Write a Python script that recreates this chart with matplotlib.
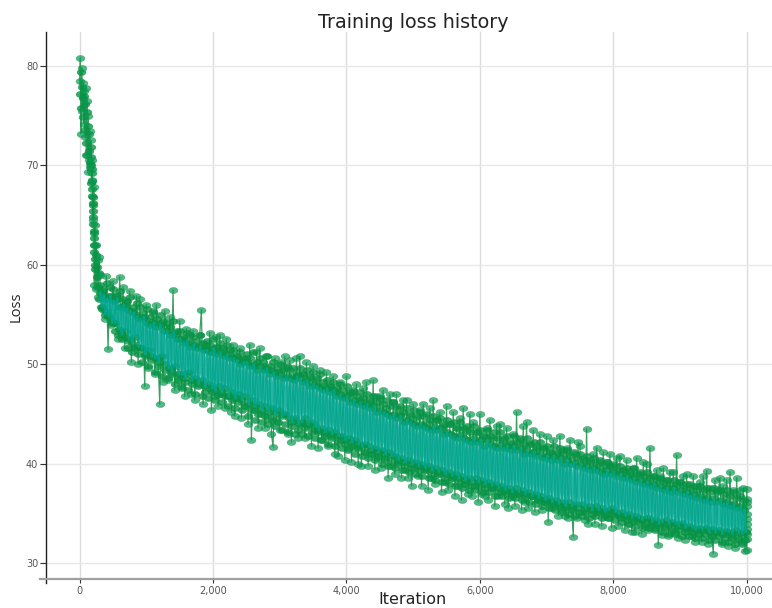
"""
Training loss history: dense green/teal loss curve.
Values read off the picture: an outer pass for the stems and stray points,
a rim pass for the speckled green edge, an inner pass for the teal core.
"""
import matplotlib
matplotlib.use('Agg')
import matplotlib.pyplot as plt
from matplotlib.markers import MarkerStyle
from matplotlib.transforms import Affine2D

# ── Data ──
# first 300 iterations, every 10
early_loss = [
    78.5, 80.8, 73.2, 79.8, 75.5, 78.3, 74.2, 77.5, 72.8, 77.8,
    71.0, 76.5, 69.3, 75.0, 70.5, 73.5, 69.8, 72.5, 68.5, 70.5,
    64.5, 67.8, 58.0, 64.0, 57.6, 62.0, 57.8, 60.5, 56.8, 60.8,
]
# same stretch, offset by 5
early_inner_loss = [
    77.2, 79.4, 75.8, 77.9, 76.8, 74.9, 77.0, 73.6, 76.2, 72.2,
    75.4, 71.0, 74.0, 71.4, 73.2, 70.2, 71.8, 68.2, 69.6, 66.8,
    66.0, 63.2, 62.0, 59.6, 61.0, 58.8, 59.8, 57.8, 59.2, 56.6,
]
# extra points on the steep part of the drop
steep_iters = [165, 172, 178, 183, 187, 190, 195, 198, 203, 207, 210, 214, 218, 222, 226, 231]
steep_loss = [70.8, 70.0, 69.2, 68.4, 67.6, 66.9, 66.2, 65.4, 64.8, 64.1, 63.4, 62.7, 62.0, 61.3, 60.6, 60.0]
# from 300 on, every 25 (one row = 200 iterations)
outer_loss = [
    59.0, 55.8, 57.6, 54.6, 58.9, 51.5, 56.9, 54.0,
    58.4, 54.2, 56.9, 52.6, 58.8, 53.4, 57.8, 51.6,
    56.2, 52.4, 57.4, 50.2, 55.4, 51.6, 56.9, 50.0,
    56.6, 51.6, 54.8, 47.8, 56.0, 49.6, 54.4, 50.8,
    55.2, 49.0, 56.0, 50.6, 46.0, 54.2, 48.2, 55.4,
    53.8, 48.4, 54.8, 49.6, 57.5, 47.4, 53.0, 48.6,
    54.4, 47.8, 52.6, 46.8, 53.6, 49.0, 52.2, 47.0,
    53.4, 46.4, 51.8, 48.2, 53.0, 55.5, 46.0, 52.0,
    52.0, 47.6, 53.2, 45.4, 51.2, 46.8, 52.8, 45.8,
    53.0, 47.0, 51.4, 45.6, 52.6, 46.8, 50.8, 45.2,
    52.0, 44.8, 50.8, 46.6, 51.6, 44.6, 50.4, 45.8,
    50.6, 44.0, 52.0, 42.4, 49.8, 45.4, 51.2, 43.6,
    51.6, 45.0, 49.8, 43.6, 50.8, 44.6, 49.4, 43.0,
    41.7, 50.6, 44.4, 49.2, 43.4, 50.2, 45.0, 50.8,
    49.6, 43.0, 50.4, 42.2, 48.8, 44.4, 50.6, 42.6,
    50.8, 44.0, 49.0, 42.6, 50.2, 43.8, 48.6, 41.8,
    49.8, 43.4, 48.4, 41.6, 49.4, 42.4, 47.8, 43.0,
    49.2, 41.8, 47.8, 42.8, 48.8, 41.0, 47.2, 40.8,
    48.2, 42.4, 46.8, 40.4, 48.8, 41.6, 47.0, 40.2,
    47.2, 41.6, 48.0, 40.0, 46.4, 39.8, 47.6, 41.2,
    48.2, 39.8, 46.2, 41.0, 48.4, 39.4, 46.8, 40.6,
    46.8, 39.6, 47.4, 40.4, 45.6, 38.6, 47.0, 39.8,
    46.2, 39.0, 47.0, 40.0, 45.0, 38.6, 46.4, 39.4,
    46.4, 38.6, 44.8, 37.8, 46.0, 39.6, 44.6, 38.8,
    45.4, 37.8, 46.0, 39.4, 44.2, 37.4, 45.6, 38.6,
    46.4, 38.0, 44.4, 39.0, 45.2, 37.2, 43.8, 38.2,
    45.8, 37.4, 44.0, 38.6, 45.2, 36.8, 43.6, 37.8,
    44.6, 36.4, 45.6, 38.0, 43.4, 37.0, 45.0, 36.8,
    44.2, 37.8, 43.2, 36.2, 45.0, 37.0, 42.8, 36.8,
    43.6, 36.4, 44.4, 37.6, 42.6, 35.8, 43.8, 36.8,
    44.0, 37.2, 42.4, 36.0, 43.6, 35.6, 42.0, 36.8,
    43.0, 35.8, 45.2, 37.0, 42.4, 35.4, 43.8, 36.2,
    44.2, 35.6, 42.0, 36.8, 43.4, 35.2, 41.8, 36.4,
    43.0, 35.4, 41.6, 36.2, 42.8, 34.2, 41.2, 35.6,
    42.4, 36.0, 41.0, 34.8, 42.8, 35.4, 41.4, 34.8,
    41.6, 34.6, 42.4, 35.6, 32.7, 41.0, 34.6, 42.2,
    41.8, 35.2, 40.6, 34.4, 43.5, 34.0, 40.4, 35.4,
    41.0, 34.0, 41.6, 35.2, 40.2, 33.8, 41.2, 34.8,
    40.2, 34.6, 41.0, 33.6, 39.8, 35.0, 40.6, 33.8,
    40.8, 34.6, 39.4, 33.4, 40.4, 34.0, 39.2, 33.2,
    39.6, 33.2, 40.6, 34.4, 39.0, 33.0, 40.2, 33.8,
    40.0, 33.4, 41.6, 34.2, 38.8, 33.6, 39.4, 31.9,
    38.8, 32.9, 39.6, 33.8, 38.4, 32.8, 39.2, 33.6,
    39.2, 33.2, 40.9, 32.6, 38.2, 33.8, 38.8, 32.4,
    39.0, 33.4, 38.0, 32.8, 38.8, 32.2, 37.8, 33.2,
    38.2, 32.2, 38.8, 33.4, 39.3, 32.0, 37.6, 32.8,
    31.0, 38.4, 33.2, 37.4, 38.6, 32.0, 37.8, 33.0,
    38.4, 31.8, 39.2, 32.8, 37.4, 31.6, 38.6, 32.6,
    37.4, 32.2, 37.6, 31.3, 36.2,
]
# the column of points stacked at the last iteration
end_loss = [37.5, 35.0, 36.5, 33.5, 35.8, 32.5, 34.5, 31.4, 34.0, 33.0]
# from 305 on, every 25
rim_loss = [
    58.0, 55.6, 57.4, 55.4, 58.2, 55.0, 57.8, 54.4,
    57.6, 53.4, 57.0, 53.0, 57.4, 52.6, 56.6, 52.8,
    56.4, 51.6, 56.8, 51.2, 55.8, 51.8, 56.2, 51.0,
    55.8, 50.2, 55.2, 50.8, 55.6, 49.8, 54.8, 50.4,
    55.4, 49.2, 54.6, 49.8, 55.0, 48.8, 54.4, 49.4,
    54.2, 48.6, 53.8, 49.0, 54.4, 48.0, 53.4, 48.4,
    53.4, 47.6, 52.8, 48.2, 53.2, 47.4, 53.0, 48.0,
    52.8, 47.0, 52.4, 47.8, 53.0, 46.8, 52.2, 47.2,
    52.4, 46.6, 52.0, 47.2, 52.6, 46.4, 51.8, 46.9,
    52.2, 46.2, 51.6, 46.8, 52.0, 45.8, 51.4, 46.4,
    51.4, 45.6, 50.8, 46.2, 51.2, 45.4, 50.6, 45.8,
    51.0, 44.8, 50.6, 45.4, 51.2, 44.4, 50.2, 45.0,
    50.6, 44.2, 50.2, 44.8, 50.8, 44.0, 49.8, 44.4,
    50.2, 43.8, 49.6, 44.2, 50.0, 43.4, 49.4, 44.0,
    49.8, 43.2, 49.4, 43.8, 49.6, 43.0, 49.0, 43.4,
    49.6, 43.0, 49.0, 43.6, 49.4, 42.8, 48.8, 43.2,
    49.2, 42.6, 48.6, 43.2, 49.0, 42.4, 48.2, 42.8,
    48.4, 42.0, 47.8, 42.6, 48.2, 41.8, 47.6, 42.2,
    48.0, 41.6, 47.4, 42.0, 47.8, 41.4, 47.2, 41.8,
    47.4, 41.0, 46.8, 41.6, 47.2, 40.8, 46.6, 41.2,
    47.0, 40.6, 46.4, 41.0, 46.8, 40.4, 46.2, 40.8,
    46.6, 40.0, 46.0, 40.6, 46.4, 39.8, 45.8, 40.2,
    46.2, 39.6, 45.6, 40.2, 45.8, 39.4, 45.2, 39.8,
    45.6, 39.2, 45.0, 39.6, 45.4, 39.0, 44.8, 39.4,
    45.2, 38.8, 44.8, 39.4, 45.0, 38.6, 44.4, 39.0,
    44.8, 38.4, 44.4, 39.0, 44.6, 38.2, 44.0, 38.6,
    44.4, 38.0, 44.0, 38.6, 44.2, 37.8, 43.6, 38.2,
    44.2, 37.6, 43.6, 38.0, 43.8, 37.4, 43.2, 37.8,
    43.8, 37.4, 43.2, 37.8, 43.4, 37.2, 42.8, 37.6,
    43.4, 37.2, 42.8, 37.6, 43.2, 36.8, 42.6, 37.2,
    43.2, 36.8, 42.6, 37.2, 42.8, 36.6, 42.2, 37.0,
    42.8, 36.6, 42.2, 37.0, 42.6, 36.4, 42.0, 36.8,
    42.6, 36.2, 42.0, 36.8, 42.2, 36.0, 41.6, 36.4,
    42.2, 35.8, 41.6, 36.2, 41.8, 35.6, 41.2, 36.0,
    41.8, 35.4, 41.2, 35.8, 41.6, 35.2, 41.0, 35.6,
    41.4, 35.0, 40.8, 35.4, 41.2, 34.8, 40.6, 35.2,
    41.0, 34.8, 40.4, 35.2, 40.8, 34.6, 40.2, 35.0,
    40.6, 34.8, 40.0, 35.2, 40.4, 34.6, 39.8, 35.0,
    40.2, 34.6, 39.8, 35.0, 40.0, 34.4, 39.4, 34.8,
    39.8, 34.2, 39.4, 34.6, 39.6, 34.0, 39.0, 34.4,
    39.6, 33.8, 39.0, 34.2, 39.2, 33.6, 38.8, 34.0,
    39.2, 33.6, 38.6, 34.0, 38.8, 33.4, 38.4, 33.8,
    38.6, 33.2, 38.2, 33.6, 38.4, 33.0, 37.9, 33.4,
    38.4, 33.0, 38.0, 33.4, 38.2, 32.8, 37.8, 33.2,
    38.0, 32.8, 37.6, 33.2, 37.8, 32.6, 37.4, 33.0,
    37.8, 32.6, 37.4, 33.0, 37.6, 32.4, 37.2, 32.8,
    37.6, 32.4, 37.2, 32.8, 37.4, 32.2, 37.0, 32.6,
    37.4, 32.2, 36.8, 32.6, 37.2, 32.0, 36.6, 32.4,
    36.8, 32.0, 36.4, 32.4,
]
# from 310 on, every 25
inner_loss = [
    57.2, 55.8, 57.0, 55.0, 56.6, 54.8, 56.9, 54.2,
    56.4, 54.2, 56.6, 53.6, 55.8, 53.0, 56.0, 53.4,
    55.6, 52.6, 55.4, 52.2, 55.2, 52.8, 54.8, 51.8,
    54.6, 51.6, 54.8, 51.0, 54.2, 51.4, 54.0, 50.8,
    54.2, 50.6, 53.8, 50.2, 54.0, 50.8, 53.4, 50.0,
    53.4, 49.6, 53.0, 49.2, 53.2, 49.8, 52.6, 49.0,
    52.6, 49.0, 52.2, 48.6, 52.4, 49.2, 51.8, 48.4,
    52.0, 48.6, 51.6, 48.0, 51.8, 48.4, 51.4, 47.8,
    51.4, 48.0, 51.2, 47.6, 51.6, 47.4, 51.0, 47.8,
    51.2, 47.2, 50.8, 47.6, 51.0, 46.8, 50.6, 47.2,
    50.6, 46.6, 50.4, 47.0, 50.0, 46.4, 50.2, 46.8,
    50.2, 46.0, 49.8, 46.4, 50.0, 45.8, 49.4, 46.0,
    49.8, 45.4, 49.4, 45.8, 49.6, 45.2, 49.0, 45.6,
    49.2, 45.0, 48.8, 45.4, 49.0, 44.8, 48.6, 45.0,
    48.8, 44.6, 48.6, 44.2, 48.4, 44.6, 48.8, 44.0,
    48.6, 44.2, 48.2, 44.6, 48.4, 44.0, 47.8, 44.2,
    48.0, 43.8, 47.8, 43.4, 47.6, 43.6, 47.4, 43.2,
    47.6, 43.4, 47.2, 43.0, 47.4, 43.2, 46.8, 42.8,
    47.0, 42.8, 46.6, 42.4, 46.8, 42.6, 46.2, 42.2,
    46.4, 42.4, 46.0, 42.0, 46.2, 41.8, 45.8, 42.0,
    46.0, 41.8, 45.6, 41.4, 45.8, 41.6, 45.2, 41.2,
    45.4, 41.4, 45.2, 41.0, 45.0, 41.2, 44.8, 40.8,
    45.0, 40.8, 44.6, 40.4, 44.8, 40.6, 44.2, 40.2,
    44.4, 40.4, 44.2, 40.0, 44.0, 40.2, 43.8, 39.8,
    44.0, 40.0, 43.8, 39.6, 43.6, 39.8, 43.4, 39.4,
    43.8, 39.6, 43.4, 39.2, 43.6, 39.4, 43.0, 39.0,
    43.2, 39.2, 43.0, 38.8, 42.8, 39.0, 42.6, 38.6,
    43.0, 38.8, 42.6, 38.4, 42.4, 38.6, 42.2, 38.2,
    42.6, 38.6, 42.2, 38.2, 42.4, 38.4, 41.8, 38.0,
    42.4, 38.2, 42.0, 37.8, 41.8, 38.0, 41.6, 37.6,
    42.0, 37.8, 41.6, 37.4, 41.8, 37.6, 41.4, 37.2,
    41.8, 37.6, 41.4, 37.2, 41.6, 37.4, 41.0, 37.0,
    41.4, 37.2, 41.0, 36.8, 41.2, 37.0, 40.8, 36.6,
    41.0, 36.8, 40.6, 36.4, 40.8, 36.6, 40.4, 36.2,
    40.8, 36.4, 40.4, 36.0, 40.6, 36.2, 40.0, 35.8,
    40.4, 36.2, 40.0, 35.8, 40.2, 36.0, 39.8, 35.6,
    40.0, 36.0, 39.6, 35.6, 39.8, 35.8, 39.4, 35.4,
    39.6, 35.8, 39.4, 35.4, 39.2, 35.6, 39.0, 35.2,
    39.4, 35.4, 39.0, 35.6, 39.2, 35.2, 38.8, 35.0,
    39.0, 35.2, 38.6, 34.8, 38.8, 35.0, 38.4, 34.6,
    38.6, 34.8, 38.2, 34.6, 38.4, 34.4, 38.0, 34.6,
    38.2, 34.6, 37.8, 34.2, 38.0, 34.4, 37.6, 34.0,
    37.8, 34.2, 37.4, 34.4, 37.6, 34.0, 37.2, 34.2,
    37.6, 34.0, 37.2, 33.8, 37.4, 34.1, 37.0, 33.6,
    37.2, 33.8, 36.8, 33.6, 37.0, 33.4, 36.6, 33.6,
    36.8, 33.4, 36.4, 33.6, 36.6, 33.2, 36.2, 33.5,
    36.6, 33.2, 36.2, 33.4, 36.4, 33.0, 36.0, 33.3,
    36.2, 33.2, 35.8, 33.0, 36.0, 33.4, 35.6, 33.1,
    35.8, 33.0, 35.4, 33.2,
]

outer_iters = (list(range(0, 300, 10))
               + list(range(300, 300 + 25 * len(outer_loss), 25))
               + [10000] * len(end_loss))
outer = early_loss + outer_loss + end_loss
early_inner_iters = list(range(5, 305, 10))
rim_iters = list(range(305, 305 + 25 * len(rim_loss), 25))
inner_iters = list(range(310, 310 + 25 * len(inner_loss), 25))

x_ticks = [0, 2000, 4000, 6000, 8000, 10000]
x_tick_labels = ['0', '2,000', '4,000', '6,000', '8,000', '10,000']
y_ticks = [30, 40, 50, 60, 70, 80]

W, H = 772, 608
fig = plt.figure(figsize=(W / 100, H / 100), dpi=100, facecolor='white')
# axes box in pixels: x 40-772, y 32-579
ax = fig.add_axes([40 / W, 1 - 579 / H, (772 - 40) / W, (579 - 32) / H])

ax.set_xlim(-595, 10380)
ax.set_ylim(28.44, 83.4)

ax.grid(True, axis='x', color='#dcdcdc', lw=1.0)
ax.grid(True, axis='y', color='#e8e8e8', lw=1.0)
ax.set_axisbelow(True)

# flat, wide dots
dot = MarkerStyle('o', transform=Affine2D().scale(1.45, 1.0))
green = '#0a9a4f'
dark_green = '#079345'
ax.plot(outer_iters, outer, '-', color='#3f9f62', lw=0.9, zorder=2)
ax.plot(early_inner_iters, early_inner_loss, ls='none', marker=dot, ms=4.4,
        mfc=dark_green, mec=dark_green, mew=0.3, alpha=0.8, zorder=3)
ax.plot(steep_iters, steep_loss, ls='none', marker=dot, ms=4.4,
        mfc=dark_green, mec=dark_green, mew=0.3, alpha=0.8, zorder=3)
ax.plot(outer_iters, outer, ls='none', marker=dot, ms=4.4, mfc=green,
        mec='#0a8f48', mew=0.3, alpha=0.7, zorder=3)
ax.plot(rim_iters, rim_loss, ls='none', marker=dot, ms=4.4, mfc=dark_green,
        mec=dark_green, mew=0.3, alpha=0.8, zorder=3)
ax.plot(inner_iters, inner_loss, ls='none', marker=dot, ms=4.4, mfc=dark_green,
        mec=dark_green, mew=0.3, alpha=0.8, zorder=3)
ax.plot(inner_iters, inner_loss, '-', color='#00a896', lw=1.8, alpha=0.85, zorder=4)

# ── Axes ──
for side in ['top', 'right']:
    ax.spines[side].set_visible(False)
ax.spines['left'].set_position(('data', -498))
ax.spines['left'].set_bounds(28.0, 83.4)
ax.spines['left'].set_color('#222222')
ax.spines['left'].set_linewidth(1.0)
ax.spines['bottom'].set_color('#a0a0a0')
ax.spines['bottom'].set_linewidth(1.6)

ax.set_xticks(x_ticks)
ax.set_xticklabels(x_tick_labels)
ax.set_yticks(y_ticks)
ax.tick_params(axis='x', length=3, width=0.8, color='#333333', labelsize=7,
               labelcolor='#555555', pad=2)
ax.tick_params(axis='y', length=4, width=0.8, color='#333333', labelsize=7,
               labelcolor='#555555', pad=2)

fig.text(413 / W, 1 - 22 / H, 'Training loss history', ha='center', va='center',
         fontsize=13.8, color='#222222')
fig.text(413 / W, 1 - 603.5 / H, 'Iteration', ha='center', va='baseline',
         fontsize=11.5, color='#222222')
fig.text(16 / W, 1 - 307 / H, 'Loss', ha='center', va='center', rotation=90,
         fontsize=10.5, color='#222222', family='Open Sans')

fig.savefig('out.png', dpi=100, facecolor='white')
plt.close(fig)
